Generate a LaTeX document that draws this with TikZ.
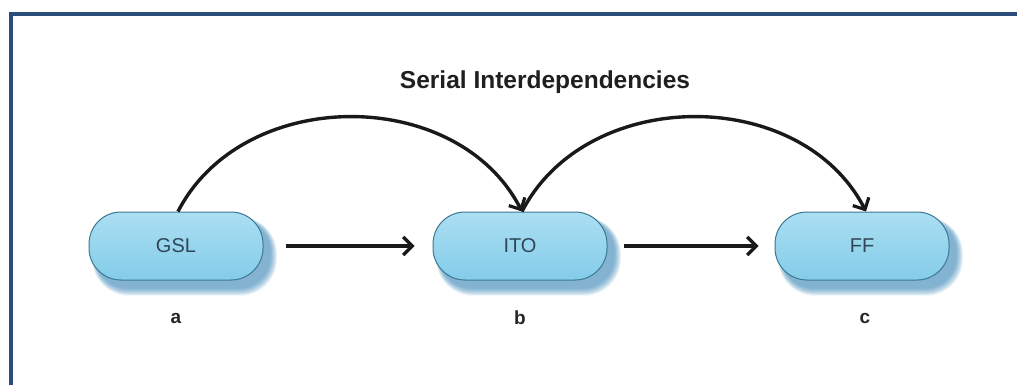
\documentclass[tikz,border=0pt]{standalone}
\usepackage{fontspec}
\setmainfont{Liberation Sans}
\usetikzlibrary{arrows.meta,backgrounds}
\definecolor{framecol}{HTML}{2C4C7A}
\definecolor{pilltop}{HTML}{ABDFF3}
\definecolor{pillbot}{HTML}{84CCE9}
\definecolor{pilledge}{HTML}{3C7890}
\definecolor{pilltext}{HTML}{2F4658}
\definecolor{shadowcol}{HTML}{2A80B4}
\tikzset{
  pill/.style={draw=pilledge, line width=1pt, rounded corners=32pt,
    minimum width=174pt, minimum height=68pt, inner sep=0pt,
    top color=pilltop, bottom color=pillbot,
    font=\fontsize{20}{24}\selectfont, text=pilltext},
  tag/.style={font=\bfseries\fontsize{19}{22}\selectfont, text=black!85},
  link/.style={line width=3.4pt, black!90,
    -{Straight Barb[length=9pt,width=18pt,line width=3.2pt]}},
}
\begin{document}
\begin{tikzpicture}[x=1pt,y=-1pt]
  \useasboundingbox (0,0) rectangle (1017,385);
  % frame: top and left edges
  \draw[framecol, line width=4.2pt] (11,385) -- (11,14) -- (1017,14);

  \node[font=\bfseries\fontsize{24.5}{28}\selectfont, text=black!88] (title) at (545,82) {Serial Interdependencies};

  \node[pill] (gsl) at (176,246) {GSL};
  \node[pill] (ito) at (520,246) {ITO};
  \node[pill] (ff)  at (862,246) {FF};

  % soft blue drop shadows, heavier towards the lower right
  \begin{scope}[on background layer]
    \fill[white] (0,0) rectangle (1017,385);
    \foreach \n in {gsl,ito,ff}{
      \foreach \k in {0,...,8}{
        \fill[shadowcol, opacity=0.09, rounded corners={32pt+0.6*\k pt}]
          ([xshift=7pt-0.4*\k pt, yshift=-8pt-0.9*\k pt]\n.south west)
          rectangle ([xshift=7pt+0.8*\k pt, yshift=-8pt+0.3*\k pt]\n.north east);
      }
    }
  \end{scope}

  \node[tag] (la) at (176,318) {a};
  \node[tag] (lb) at (520,318) {b};
  \node[tag] (lc) at (865,318) {c};

  % direct serial flow
  \draw[link, shorten <=22pt, shorten >=18pt] (gsl.east) -- (ito.west);
  \draw[link, shorten <=16pt, shorten >=16pt] (ito.east) -- (ff.west);

  % arching dependencies
  \coordinate (gtop) at ([xshift=2pt]gsl.north);
  \coordinate (itop) at ([xshift=2pt]ito.north);
  \coordinate (ftop) at ([xshift=4pt]ff.north);
  \draw[link] (gtop) .. controls +(65,-126) and +(-65,-126) .. (itop);
  \draw[link] (itop) .. controls +(65,-126) and +(-65,-126) .. (ftop);
\end{tikzpicture}
\end{document}
